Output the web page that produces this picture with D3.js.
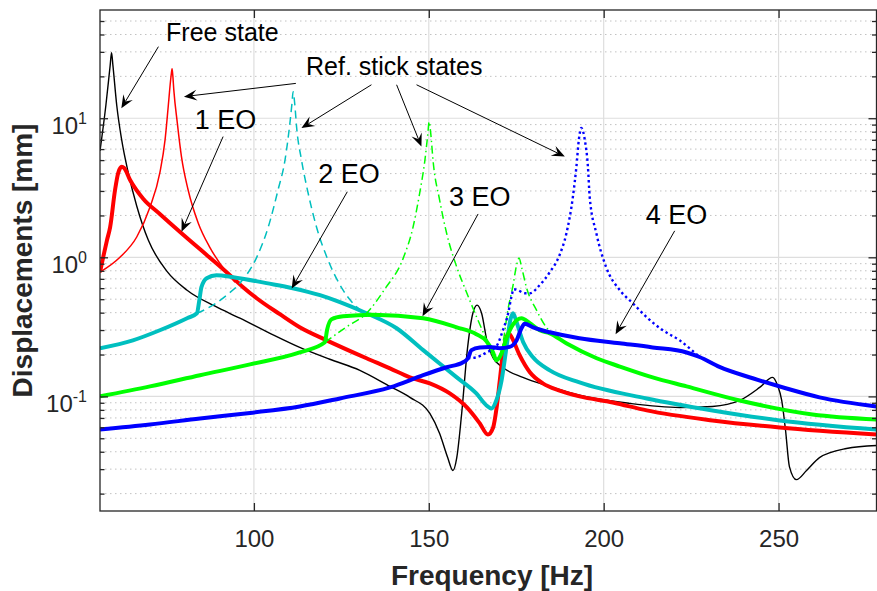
<!DOCTYPE html>
<html>
<head>
<meta charset="utf-8">
<script src="https://cdn.jsdelivr.net/npm/d3@7"></script>
<style>
	body { margin: 0; background: #fff; }
	svg { display: block; font-family: "Liberation Sans", Arial, Helvetica, sans-serif; }
</style>
</head>
<body>
<svg id="chart" width="877" height="591"></svg>
<script>
"use strict";

// [frequency Hz, displacement mm]
var freeState = [[56, 5.82], [57.7, 12.5], [58.9, 23.9], [59.3, 29.6], [59.7, 23.9], [60.8, 12.3], [62.2, 6.99],
	[64.1, 4.04], [66.5, 2.34], [69.8, 1.33], [75.1, 0.796], [80.9, 0.580], [88.9, 0.445], [96.0, 0.365],
	[104.6, 0.284], [113.1, 0.225], [121.7, 0.185], [130.3, 0.154], [138.9, 0.118], [144.6, 0.0984],
	[150.3, 0.0754], [153.1, 0.0541], [155.4, 0.0363], [156.9, 0.0293], [158.0, 0.0363], [159.4, 0.0754],
	[161.1, 0.225], [162.6, 0.396], [163.8, 0.453], [165.1, 0.396], [166.6, 0.253], [168.3, 0.191],
	[171.1, 0.162], [176.9, 0.137], [184.6, 0.118], [193.1, 0.102], [207.4, 0.0891], [221.7, 0.0833],
	[231.1, 0.0847], [238.9, 0.0936], [244.6, 0.116], [248.3, 0.137], [249.7, 0.120], [250.9, 0.0936],
	[252.0, 0.0569], [253.1, 0.0313], [255.1, 0.0252], [258.0, 0.0293], [261.7, 0.0363], [269.4, 0.0422],
	[278, 0.0444]];

var ref1EO = [[56, 0.782], [61.7, 1.00], [66.5, 1.40], [70.3, 2.30], [73.1, 4.04], [74.6, 6.99], [75.5, 12.1],
	[76.2, 18.9], [76.4, 20.9], [76.6, 22.7], [76.8, 20.5], [77.1, 16.0], [78.1, 9.27], [79.3, 5.27],
	[81.2, 3.05], [84.1, 1.76], [87.4, 1.18], [91.7, 0.809], [94.6, 0.663]];

var resp1EO = [[56, 0.782], [56.9, 1.00], [58.0, 1.33], [58.9, 1.65], [60.3, 3.05], [61.2, 4.04], [62.2, 4.47],
	[62.9, 4.39], [64.6, 3.60], [68.4, 2.63], [73.1, 2.05], [79.3, 1.49], [86.5, 1.04], [92.2, 0.782],
	[96.9, 0.610], [100.8, 0.508], [107.4, 0.390], [113.1, 0.314], [120.8, 0.253], [132.2, 0.188],
	[138.9, 0.159], [144.6, 0.137], [150.3, 0.124], [156.0, 0.105], [160.9, 0.0833], [164.6, 0.0639],
	[166.9, 0.0532], [168.4, 0.0598], [169.4, 0.0833], [170.3, 0.130], [171.2, 0.204], [172.2, 0.266],
	[172.9, 0.284], [173.7, 0.266], [176.0, 0.197], [178.9, 0.149], [182.6, 0.124], [187.4, 0.110],
	[193.1, 0.100], [202.6, 0.0905], [212.3, 0.0793], [231.1, 0.0672], [250.3, 0.0598], [278, 0.0532]];

var ref2EO = [[83.7, 0.396], [88.3, 0.453], [92.2, 0.534], [96.0, 0.652], [100.8, 1.00], [104.1, 1.65],
	[106.9, 3.05], [108.9, 5.02], [110.3, 9.27], [110.9, 12.9], [111.2, 15.5], [111.7, 12.5], [112.2, 8.67],
	[113.6, 5.02], [115.5, 2.90], [117.9, 1.65], [121.2, 0.955], [125.5, 0.581], [131.2, 0.403], [133.1, 0.377]];

var resp2EO = [[56, 0.222], [65.4, 0.253], [73.1, 0.299], [80.9, 0.365], [83.7, 0.396], [84.4, 0.492],
	[85.0, 0.610], [86.5, 0.708], [89.3, 0.744], [94.1, 0.720], [103.6, 0.652], [111.1, 0.600],
	[118.9, 0.534], [124.6, 0.476], [132.2, 0.396], [140.8, 0.309], [148.4, 0.215], [158.0, 0.137],
	[163.6, 0.105], [166.5, 0.0861], [167.9, 0.0819], [169.3, 0.0935], [170.8, 0.130], [172.2, 0.225],
	[173.3, 0.353], [174.1, 0.396], [175.1, 0.341], [177.0, 0.245], [179.8, 0.191], [184.6, 0.154],
	[193.1, 0.126], [212.3, 0.0967], [231.1, 0.0793], [250.3, 0.0672], [278, 0.0578]];

var ref3EO = [[120.3, 0.245], [126.3, 0.314], [132.2, 0.396], [137.4, 0.590], [142.7, 0.987], [145.5, 1.65],
	[147.4, 2.90], [148.9, 5.02], [149.7, 7.59], [150.1, 9.42], [150.6, 7.59], [151.2, 5.02], [153.1, 2.58],
	[155.1, 1.49], [158.0, 0.850], [160.9, 0.552], [163.7, 0.371], [166.6, 0.253], [169.3, 0.182],
	[171.1, 0.233], [172.6, 0.417], [174.1, 0.631], [175.1, 0.879], [175.8, 0.987], [176.6, 0.836],
	[177.9, 0.610], [180.8, 0.417], [183.6, 0.314], [187.4, 0.266]];

var resp3EO = [[56, 0.100], [70.3, 0.118], [84.6, 0.142], [98.9, 0.170], [113.1, 0.207], [120.3, 0.245],
	[120.9, 0.299], [122.2, 0.359], [125.5, 0.377], [134.1, 0.387], [148.4, 0.365], [158.0, 0.314],
	[163.6, 0.280], [166.5, 0.249], [168.4, 0.207], [169.3, 0.182], [170.8, 0.204], [172.2, 0.262],
	[174.1, 0.330], [176.5, 0.365], [178.9, 0.336], [181.7, 0.299], [184.6, 0.284], [189.3, 0.241],
	[198.0, 0.188], [204.6, 0.164], [214.0, 0.137], [223.7, 0.118], [238.9, 0.0935], [259.7, 0.0742],
	[278, 0.0683]];

var ref4EO = [[161.2, 0.188], [163.6, 0.191], [166.5, 0.207], [169.3, 0.229], [171.2, 0.299], [172.7, 0.396],
	[173.6, 0.517], [174.3, 0.590], [175.4, 0.581], [177.4, 0.552], [178.9, 0.552], [181.7, 0.631],
	[184.6, 0.782], [187.4, 1.04], [189.3, 1.47], [191.2, 2.72], [192.2, 4.47], [192.9, 7.00], [193.6, 8.53],
	[194.6, 7.00], [195.5, 4.47], [196.0, 2.72], [197.9, 1.49], [200.7, 0.850], [204.6, 0.581],
	[208.3, 0.468], [212.3, 0.371], [216.9, 0.299], [221.7, 0.253], [226.9, 0.197], [227.4, 0.192]];

var resp4EO = [[56, 0.0578], [70.3, 0.0628], [84.6, 0.0694], [98.9, 0.0761], [113.1, 0.0847], [124.6, 0.0967],
	[138.9, 0.116], [148.4, 0.142], [155.1, 0.162], [159.8, 0.176], [161.2, 0.188], [162.2, 0.215],
	[164.6, 0.225], [167.4, 0.227], [170.3, 0.222], [173.1, 0.227], [175.1, 0.253], [176.5, 0.309],
	[177.4, 0.333], [179.8, 0.314], [184.6, 0.289], [193.1, 0.262], [204.6, 0.241], [214.0, 0.225],
	[223.7, 0.207], [227.4, 0.192], [233.1, 0.163], [242.6, 0.135], [252.3, 0.114], [261.7, 0.0984],
	[278, 0.0847]];

var xTicks = [100, 150, 200, 250];
var yTicks = [0.1, 1, 10];
var yMinorTicks = [0.02, 0.03, 0.04, 0.05, 0.06, 0.07, 0.08, 0.09,
	0.2, 0.3, 0.4, 0.5, 0.6, 0.7, 0.8, 0.9,
	2, 3, 4, 5, 6, 7, 8, 9, 20, 30, 40, 50];

// annotation texts, anchored at [frequency, displacement]
var noteTexts = [
	["Free state", 74.9, 35.7],
	["Ref. stick states", 114.9, 20.5],
	["1 EO", 83.1, 8.35],
	["2 EO", 118.4, 3.44],
	["3 EO", 155.8, 2.34],
	["4 EO", 212.0, 1.75]
];

// annotation arrows: [from, to] in [frequency, displacement]
var noteArrows = [
	[[72.7, 32.7], [62.1, 11.8]],
	[[112.0, 17.8], [80.0, 14.3]],
	[[133.6, 17.4], [113.6, 8.49]],
	[[140.8, 17.4], [147.9, 6.25]],
	[[146.5, 17.4], [188.9, 5.30]],
	[[91.2, 7.38], [79.3, 1.53]],
	[[126.7, 2.96], [110.8, 0.597]],
	[[164.1, 2.05], [148.2, 0.377]],
	[[220.3, 1.55], [203.4, 0.280]]
];

var plotLeft = 100, plotRight = 876.5, plotTop = 10, plotBottom = 511,
	axisColor = "#262626";

var svg = d3.select("#chart");

var x = d3.scaleLinear().domain([56, 278]).range([plotLeft, plotRight]);
var y = d3.scaleLog().domain([0.015, 60]).range([plotBottom, plotTop]);

/**
 * Grid: solid major lines, dotted minor lines on the log axis
 */
var grid = svg.append("g");

grid.selectAll(".minor").data(yMinorTicks).enter().append("line")
	.attr("x1", plotLeft).attr("x2", plotRight)
	.attr("y1", function (d) { return y(d); })
	.attr("y2", function (d) { return y(d); })
	.attr("stroke", "#c2c2c2")
	.attr("stroke-width", 1)
	.attr("stroke-dasharray", "1.5,3.5");

grid.selectAll(".majory").data(yTicks).enter().append("line")
	.attr("x1", plotLeft).attr("x2", plotRight)
	.attr("y1", function (d) { return y(d); })
	.attr("y2", function (d) { return y(d); })
	.attr("stroke", "#dedede")
	.attr("stroke-width", 1.2);

grid.selectAll(".majorx").data(xTicks).enter().append("line")
	.attr("y1", plotTop).attr("y2", plotBottom)
	.attr("x1", function (d) { return x(d); })
	.attr("x2", function (d) { return x(d); })
	.attr("stroke", "#dedede")
	.attr("stroke-width", 1.2);

/**
 * Curves
 */
svg.append("clipPath").attr("id", "plotclip")
	.append("rect")
	.attr("x", plotLeft).attr("y", plotTop)
	.attr("width", plotRight - plotLeft).attr("height", plotBottom - plotTop);

var line = d3.line()
	.x(function (d) { return x(d[0]); })
	.y(function (d) { return y(d[1]); })
	.curve(d3.curveMonotoneX);

var series = [
	{ data: freeState, color: "#000000", width: 1.4, dash: null },
	{ data: ref1EO, color: "#ff0000", width: 1.5, dash: null },
	{ data: resp1EO, color: "#ff0000", width: 4, dash: null },
	{ data: ref2EO, color: "#00bfbf", width: 1.5, dash: "8,5" },
	{ data: resp2EO, color: "#00bfbf", width: 4, dash: null },
	{ data: ref3EO, color: "#00ff00", width: 1.5, dash: "8,3.5,1.5,3.5" },
	{ data: resp3EO, color: "#00ff00", width: 4, dash: null },
	{ data: ref4EO, color: "#0000ff", width: 2.4, dash: "2.4,3" },
	{ data: resp4EO, color: "#0000ff", width: 4, dash: null }
];

var curves = svg.append("g").attr("clip-path", "url(#plotclip)");

series.forEach(function (s) {
	curves.append("path")
		.attr("d", line(s.data))
		.attr("fill", "none")
		.attr("stroke", s.color)
		.attr("stroke-width", s.width)
		.attr("stroke-linejoin", "round")
		.attr("stroke-dasharray", s.dash);
});

/**
 * Box and ticks (all pointing inward)
 */
svg.append("rect")
	.attr("x", plotLeft).attr("y", plotTop)
	.attr("width", plotRight - plotLeft).attr("height", plotBottom - plotTop)
	.attr("fill", "none")
	.attr("stroke", axisColor)
	.attr("stroke-width", 1.3);

var styleAxis = function (g) {
	g.attr("font-family", null).attr("font-size", null);
	g.select(".domain").remove();
	g.selectAll(".tick line").attr("stroke", axisColor).attr("stroke-width", 1.3);
};

var gx = svg.append("g")
	.attr("transform", "translate(0," + plotBottom + ")")
	.call(d3.axisBottom(x).tickValues(xTicks).tickSizeInner(-8).tickSizeOuter(0)
		.tickPadding(19).tickFormat(d3.format("d")))
	.call(styleAxis);

gx.selectAll(".tick text")
	.attr("font-size", 24)
	.attr("fill", axisColor);

svg.append("g")
	.attr("transform", "translate(0," + plotTop + ")")
	.call(d3.axisTop(x).tickValues(xTicks).tickSizeInner(-8).tickSizeOuter(0).tickFormat(""))
	.call(styleAxis);

var gy = svg.append("g")
	.attr("transform", "translate(" + plotLeft + ",0)")
	.call(d3.axisLeft(y).tickValues(yTicks).tickSizeInner(-8).tickSizeOuter(0).tickFormat(""))
	.call(styleAxis);

gy.selectAll(".tick").each(function (d) {
	var t = d3.select(this).select("text")
		.text(null)
		.attr("x", -13)
		.attr("y", 15)
		.attr("dy", null)
		.attr("text-anchor", "end")
		.attr("fill", axisColor)
		.attr("font-size", 24);
	t.append("tspan").text("10");
	t.append("tspan").attr("dy", -10).attr("font-size", 16)
		.text(String(Math.round(Math.log10(d))));
});

svg.append("g")
	.attr("transform", "translate(" + plotLeft + ",0)")
	.call(d3.axisLeft(y).tickValues(yMinorTicks).tickSizeInner(-4.5).tickSizeOuter(0).tickFormat(""))
	.call(styleAxis);

svg.append("g")
	.attr("transform", "translate(" + plotRight + ",0)")
	.call(d3.axisRight(y).tickValues(yTicks).tickSizeInner(-8).tickSizeOuter(0).tickFormat(""))
	.call(styleAxis);

svg.append("g")
	.attr("transform", "translate(" + plotRight + ",0)")
	.call(d3.axisRight(y).tickValues(yMinorTicks).tickSizeInner(-4.5).tickSizeOuter(0).tickFormat(""))
	.call(styleAxis);

// axis titles
svg.append("text")
	.attr("x", 492).attr("y", 585)
	.attr("text-anchor", "middle")
	.attr("font-size", 28).attr("font-weight", "bold")
	.attr("fill", axisColor)
	.text("Frequency [Hz]");

svg.append("text")
	.attr("transform", "translate(32," + ((plotTop + plotBottom) / 2) + ") rotate(-90)")
	.attr("text-anchor", "middle")
	.attr("font-size", 28).attr("font-weight", "bold")
	.attr("fill", axisColor)
	.text("Displacements [mm]");

/**
 * Annotations
 */
var notes = svg.append("g");

noteTexts.forEach(function (n) {
	notes.append("text")
		.attr("x", x(n[1])).attr("y", y(n[2]))
		.attr("font-size", n[0].indexOf("EO") > 0 ? 27 : 25)
		.attr("fill", "#000")
		.text(n[0]);
});

/**
 * Draw a line with a swept-back arrow head at its end
 * @param  {Array} a [from, to]
 * @return {Void}
 */
var drawArrow = function (a) {
	var x1 = x(a[0][0]), y1 = y(a[0][1]),
		x2 = x(a[1][0]), y2 = y(a[1][1]),
		dx = x2 - x1, dy = y2 - y1,
		len = Math.sqrt(dx * dx + dy * dy),
		ux = dx / len, uy = dy / len,
		headLen = 13, headHalf = 5.5, notch = 8;

	notes.append("line")
		.attr("x1", x1).attr("y1", y1)
		.attr("x2", x2 - ux * notch).attr("y2", y2 - uy * notch)
		.attr("stroke", "#000")
		.attr("stroke-width", 1);

	notes.append("path")
		.attr("d", "M" + x2 + "," + y2 +
			"L" + (x2 - ux * headLen - uy * headHalf) + "," + (y2 - uy * headLen + ux * headHalf) +
			"L" + (x2 - ux * notch) + "," + (y2 - uy * notch) +
			"L" + (x2 - ux * headLen + uy * headHalf) + "," + (y2 - uy * headLen - ux * headHalf) + "Z")
		.attr("fill", "#000");
};

noteArrows.forEach(drawArrow);
</script>
</body>
</html>
